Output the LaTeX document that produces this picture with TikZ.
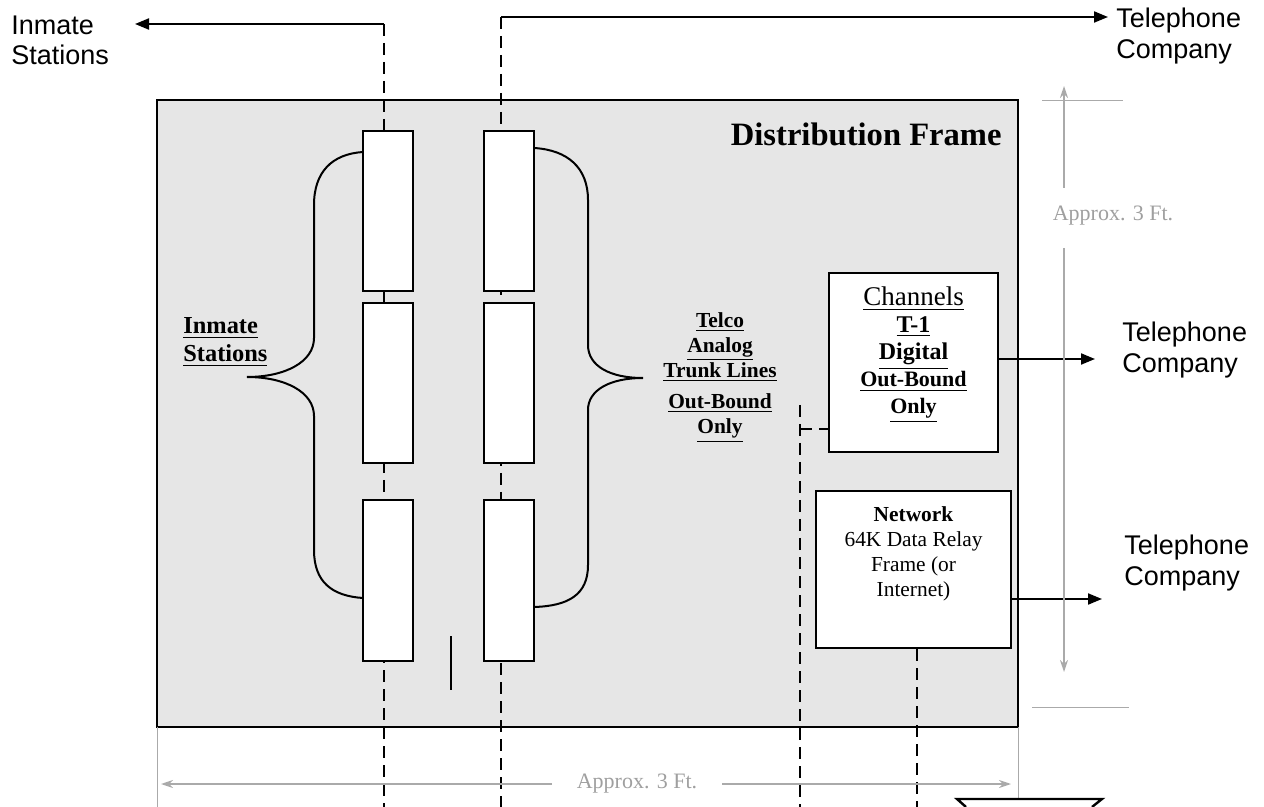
\documentclass[tikz,border=0pt]{standalone}
\usepackage{fontspec}
\setmainfont{Liberation Serif}
\newfontfamily\arialfont{Liberation Sans}
\usetikzlibrary{arrows.meta, positioning, calc}
\definecolor{cFrame}{RGB}{230,230,230}
\definecolor{cDim}{RGB}{170,170,170}
\tikzset{
	frame/.style  ={rectangle, draw=black, line width=1.4pt, fill=cFrame, inner sep=0pt},
	slot/.style   ={rectangle, draw=black, line width=1pt, fill=white, minimum width=25pt, minimum height=80pt, inner sep=0pt},
	unit/.style   ={rectangle, draw=black, line width=1pt, fill=white, inner sep=0pt},
	wire/.style   ={line width=1.4pt, dash pattern=on 6pt off 3.5pt},
	feed/.style   ={-{Triangle[length=7pt, width=5.5pt]}, line width=1pt},
	brace/.style  ={line width=1pt},
	dimln/.style  ={draw=cDim, line width=0.5pt},
	dimtip/.style ={-{Stealth[length=6pt, width=4pt]}, draw=cDim, line width=0.8pt},
	sanslbl/.style={font=\arialfont\fontsize{13.5}{15.3}\selectfont, align=left, inner sep=0pt},
	tag/.style    ={font=\bfseries\fontsize{12.2}{14}\selectfont, align=left, inner sep=0pt},
	dimlbl/.style ={text=gray!75, font=\fontsize{11}{13}\selectfont, inner sep=1pt},
}

\begin{document}
\begin{tikzpicture}[x=0.5pt, y=-0.5pt]
\useasboundingbox (0,0) rectangle (1264,807);

% frame
\node[frame, minimum width=430.5pt, minimum height=313.5pt] (frame) at (587.5,413.5) {};
\node[anchor=east, font=\bfseries\fontsize{16.3}{18}\selectfont, inner sep=0pt] (title) at (1002,134) {Distribution Frame};

% wiring
\coordinate (inL) at (384,24);
\coordinate (inB) at (384,807);
\coordinate (inTip) at (135,24);
\coordinate (teL) at (501,17);
\coordinate (teB) at (501,807);
\coordinate (teTip) at (1108,17);
\draw[wire] (inL) -- (inB);
\draw[wire] (teL) -- (teB);
\draw[feed] (inL) -- (inTip);
\draw[feed] (teL) -- (teTip);

\foreach \r/\yy in {1/211, 2/383, 3/580.5} {
	\node[slot] (sl\r) at (388,\yy) {};
	\node[slot] (sr\r) at (509,\yy) {};
}
\draw[line width=1pt] (451,636) -- (451,690);

% braces
\draw[brace] (363,152) .. controls (332,154) and (314,172) .. (314,205) -- (314,338)
	.. controls (314,362) and (285,377) .. (247,377)
	.. controls (285,377) and (314,392) .. (314,416) -- (314,550)
	.. controls (314,582) and (332,596) .. (363,598);
\draw[brace] (534,148) .. controls (568,150) and (588,168) .. (588,200) -- (588,345)
	.. controls (588,366) and (610,378) .. (643,378)
	.. controls (610,378) and (588,390) .. (588,410) -- (588,565)
	.. controls (588,595) and (568,606) .. (534,607);

\node[tag, anchor=west] (instag) at (183,342) {\underline{Inmate}\\\underline{Stations}};
\node[font=\bfseries\fontsize{10.7}{12.5}\selectfont, align=center, inner sep=0pt] (telco) at (720,347) {\underline{Telco}\\\underline{Analog}\\\underline{Trunk Lines}};
\node[font=\bfseries\fontsize{10.7}{12.5}\selectfont, align=center, inner sep=0pt] (outb) at (720,418) {\underline{Out-Bound}\\\underline{Only}};

% channels and network
\node[unit, minimum width=84.5pt, minimum height=89.5pt] (chan) at (913.5,362.5) {};
\node[align=center, inner sep=0pt, font=\fontsize{12}{13.5}\selectfont] (chantext) at (913.5,355) {{\fontsize{13.5}{13.5}\selectfont\underline{Channels}}\\\textbf{\underline{T-1}}\\\textbf{\underline{Digital}}\\{\fontsize{11}{13.5}\selectfont\bfseries\underline{Out-Bound}}\\{\fontsize{11}{13.5}\selectfont\bfseries\underline{Only}}};
\node[unit, minimum width=97.5pt, minimum height=78.5pt] (net) at (913.5,569.5) {};
\node[align=center, inner sep=0pt, font=\fontsize{10.7}{12.5}\selectfont] (nettext) at (913.5,554) {\textbf{Network}\\64K Data Relay\\Frame (or\\Internet)};

\coordinate (chT) at (800,405);
\coordinate (chB) at (800,807);
\coordinate (chJ) at (800,429);
\draw[wire] (chT) -- (chB);
\draw[wire] (chJ) -- (chan.west |- chJ);
\coordinate (ntB) at (917,807);
\draw[wire] (net.south -| ntB) -- (ntB);

% telephone company
\node[sanslbl, anchor=west] (inmTop) at (11,40.5) {Inmate\\Stations};
\node[sanslbl, anchor=west] (telTop) at (1116,36) {Telephone\\Company};
\node[sanslbl, anchor=west] (telCh) at (1122,350) {Telephone\\Company};
\node[sanslbl, anchor=west] (telNet) at (1124,563) {Telephone\\Company};
\coordinate (chTip) at (1095,359);
\coordinate (netTip) at (1102,599);
\draw[feed] (chan.east |- chTip) -- (chTip);
\draw[feed] (net.east |- netTip) -- (netTip);

% dimensions
\draw[dimln] (1042,101) -- (1123,101);
\draw[dimln] (1032,707) -- (1129,707);
\node[dimlbl] (dimV) at (1113,216) {Approx. 3 Ft.};
\draw[dimtip] (1064,188) -- (1064,86);
\draw[dimtip] (1064,248) -- (1064,672);
\draw[dimln] (157,727) -- (157,807);
\draw[dimln] (1018,727) -- (1018,800);
\node[dimlbl] (dimH) at (637,784) {Approx. 3 Ft.};
\draw[dimtip] (552,784) -- (161,784);
\draw[dimtip] (722,784) -- (1011,784);

% bottom right
\draw[line width=1.2pt] (966,807) -- (957,799) -- (1102,799) -- (1092,807);
\end{tikzpicture}
\end{document}
